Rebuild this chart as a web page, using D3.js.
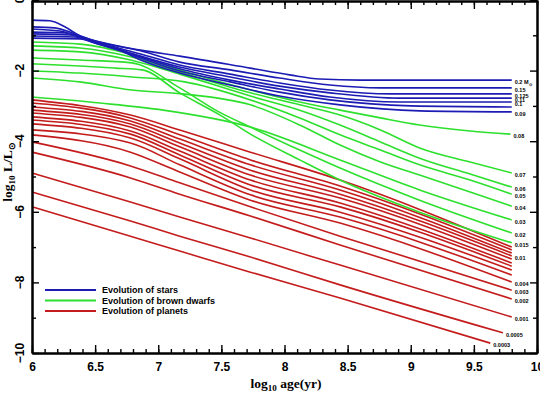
<!DOCTYPE html>
<html><head><meta charset="utf-8">
<script src="https://cdn.jsdelivr.net/npm/d3@7"></script>
<style>
html,body{margin:0;padding:0;background:#fff;}
svg{display:block;}
</style></head>
<body>
<svg id="chart" width="540" height="393"></svg>
<script>
// ---- data (log10 age in yr, log10 L/Lsun) ----
const starLabels = ["0.2 M", "0.15", "0.125", "0.11", "0.1", "", "0.09"];
const starTracks = [
  [[6.0,-0.57],[6.14,-0.59],[6.26,-0.76],[6.38,-1.02],[6.54,-1.19],[6.86,-1.42],[7.17,-1.59],[7.73,-1.93],[8.04,-2.12],[8.28,-2.24],[8.6,-2.27],[9.8,-2.27]],
  [[6.0,-0.76],[6.18,-0.79],[6.34,-0.96],[6.5,-1.16],[6.86,-1.44],[7.17,-1.76],[7.57,-1.98],[7.96,-2.21],[8.36,-2.41],[8.76,-2.49],[9.8,-2.49]],
  [[6.0,-0.82],[6.22,-0.88],[6.38,-1.05],[6.54,-1.22],[6.86,-1.53],[7.17,-1.84],[7.57,-2.10],[7.96,-2.35],[8.36,-2.55],[8.84,-2.66],[9.8,-2.66]],
  [[6.0,-0.91],[6.26,-0.93],[6.42,-1.10],[6.58,-1.27],[6.86,-1.59],[7.17,-1.90],[7.57,-2.18],[7.96,-2.44],[8.36,-2.63],[8.91,-2.78],[9.8,-2.78]],
  [[6.0,-0.96],[6.3,-0.99],[6.46,-1.16],[6.62,-1.33],[6.86,-1.61],[7.17,-1.95],[7.57,-2.27],[7.96,-2.52],[8.36,-2.75],[8.91,-2.89],[9.8,-2.89]],
  [[6.0,-1.02],[6.34,-1.05],[6.5,-1.22],[6.66,-1.39],[6.86,-1.64],[7.17,-2.01],[7.57,-2.32],[7.96,-2.61],[8.36,-2.83],[9.0,-3.0],[9.8,-3.03]],
  [[6.0,-1.08],[6.38,-1.10],[6.54,-1.27],[6.7,-1.44],[6.86,-1.70],[7.17,-2.07],[7.57,-2.41],[7.96,-2.72],[8.44,-2.97],[9.07,-3.14],[9.8,-3.17]]
];

const dwarfLabels = ["0.08", "0.07", "0.06", "0.05", "0.04", "0.03", "0.02", "0.015"];
const dwarfTracks = [
  [[6.0,-1.19],[6.38,-1.25],[6.78,-1.53],[7.17,-1.98],[7.73,-2.55],[8.12,-2.89],[8.44,-3.12],[8.76,-3.34],[9.07,-3.54],[9.47,-3.71],[9.79,-3.80]],
  [[6.0,-1.30],[6.38,-1.36],[6.78,-1.61],[7.17,-2.04],[7.73,-2.63],[8.12,-2.97],[8.44,-3.26],[8.76,-3.68],[9.07,-4.19],[9.47,-4.59],[9.8,-4.90]],
  [[6.0,-1.42],[6.38,-1.47],[6.78,-1.70],[7.17,-2.10],[7.73,-2.72],[8.12,-3.12],[8.44,-3.54],[8.76,-4.02],[9.07,-4.48],[9.47,-4.93],[9.8,-5.30]],
  [[6.0,-2.01],[6.38,-2.07],[6.79,-2.18],[7.21,-2.32],[7.73,-2.83],[8.12,-3.34],[8.44,-3.82],[8.76,-4.25],[9.07,-4.67],[9.47,-5.10],[9.8,-5.50]],
  [[6.0,-2.21],[6.38,-2.32],[6.79,-2.55],[7.19,-2.66],[7.73,-2.97],[8.12,-3.54],[8.44,-4.11],[8.76,-4.59],[9.07,-4.96],[9.47,-5.44],[9.8,-5.84]],
  [[6.0,-2.75],[6.54,-2.92],[7.04,-3.12],[7.73,-3.60],[8.44,-4.53],[9.07,-5.38],[9.8,-6.23]],
  [[6.0,-1.64],[6.38,-1.70],[6.79,-1.78],[7.17,-2.49],[7.48,-3.17],[7.73,-3.60],[8.12,-4.25],[8.44,-4.76],[9.07,-5.67],[9.8,-6.60]],
  [[6.0,-1.81],[6.38,-1.87],[6.66,-1.93],[6.87,-1.98],[7.17,-2.63],[7.49,-3.26],[7.74,-3.82],[8.12,-4.53],[8.44,-5.10],[9.07,-6.01],[9.8,-6.88]]
];

const planetLabels = ["", "", "", "0.01", "", "", "", "", "", "0.004", "0.003", "0.002", "0.001", "0.0005", "0.0003"];
const planetTracks = [
  [[6.0,-2.83],[6.78,-3.26],[7.17,-3.68],[7.73,-4.31],[8.44,-5.10],[9.8,-7.00]],
  [[6.0,-2.92],[6.78,-3.34],[7.17,-3.82],[7.73,-4.53],[8.44,-5.27],[9.8,-7.08]],
  [[6.0,-3.03],[6.78,-3.43],[7.17,-3.94],[7.73,-4.67],[8.44,-5.38],[9.8,-7.17]],
  [[6.0,-3.12],[6.78,-3.51],[7.17,-4.05],[7.73,-4.82],[8.44,-5.50],[9.8,-7.25]],
  [[6.0,-3.20],[6.78,-3.60],[7.17,-4.16],[7.73,-4.96],[8.44,-5.61],[9.8,-7.34]],
  [[6.0,-3.31],[6.78,-3.71],[7.17,-4.28],[7.73,-5.10],[8.44,-5.75],[9.8,-7.45]],
  [[6.0,-3.40],[6.78,-3.80],[7.17,-4.39],[7.73,-5.24],[8.44,-5.86],[9.8,-7.54]],
  [[6.0,-3.51],[6.78,-3.91],[7.17,-4.50],[7.73,-5.38],[8.44,-6.01],[9.8,-7.65]],
  [[6.0,-3.68],[6.78,-4.05],[7.17,-4.67],[7.73,-5.52],[8.44,-6.15],[9.8,-7.79]],
  [[6.0,-3.82],[6.78,-4.31],[7.17,-4.87],[7.73,-5.67],[8.44,-6.32],[9.8,-7.99]],
  [[6.0,-4.02],[6.78,-4.70],[7.17,-5.18],[7.73,-5.86],[8.44,-6.69],[9.8,-8.22]],
  [[6.0,-4.31],[6.78,-5.04],[7.17,-5.50],[7.73,-6.12],[8.44,-6.94],[9.8,-8.47]],
  [[6.0,-4.90],[6.78,-5.72],[7.17,-6.15],[7.73,-6.74],[8.44,-7.51],[9.8,-8.98]],
  [[6.0,-5.44],[6.78,-6.26],[7.17,-6.69],[7.73,-7.28],[8.44,-8.07],[9.73,-9.43]],
  [[6.0,-5.86],[6.78,-6.69],[7.17,-7.11],[7.73,-7.71],[8.44,-8.44],[9.63,-9.72]]
];

const xTickValues = [6, 6.5, 7, 7.5, 8, 8.5, 9, 9.5, 10];
const xTickLabels = ["6", "6.5", "7", "7.5", "8", "8.5", "9", "9.5", "10"];
const xMinorTicks = d3.range(60, 101).map(v => v / 10);
const yTickValues = [0, -2, -4, -6, -8, -10];
const yTickLabels = ["0", "\u22122", "\u22124", "\u22126", "\u22128", "\u221210"];
const yMinorTicks = [-1, -3, -5, -7, -9];

const legendLabels = ["Evolution of stars", "Evolution of brown dwarfs", "Evolution of planets"];
const groupColors = ["#1c1cb4", "#2ee02e", "#c41c1c"];

// ---- drawing ----
const svg = d3.select("#chart");
const L = 32, R = 537, T = 0, B = 353;
const x = d3.scaleLinear().domain([6, 10]).range([L, R]);
const y = d3.scaleLinear().domain([-10, 0]).range([B, T]);

const line = d3.line().x(d => x(d[0])).y(d => y(d[1])).curve(d3.curveMonotoneX);

function drawGroup(tracks, labels, color) {
  const g = svg.append("g");
  g.selectAll("path").data(tracks).join("path")
    .attr("d", line).attr("fill", "none")
    .attr("stroke", color).attr("stroke-width", 1.6);
  g.selectAll("text").data(tracks.map((t, i) => ({ t, lab: labels[i] })).filter(d => d.lab))
    .join("text")
    .attr("x", d => x(d.t[d.t.length - 1][0]) + 3)
    .attr("y", d => y(d.t[d.t.length - 1][1]) + 2)
    .attr("dy", "0.35em")
    .attr("font-family", "Liberation Sans, Arial, sans-serif")
    .attr("font-weight", "bold")
    .attr("font-size", 5.5)
    .attr("fill", "#000")
    .each(function (d) {
      const t = d3.select(this);
      t.append("tspan").text(d.lab);
      if (d.lab.indexOf("M") >= 0) {
        t.append("tspan").attr("font-size", 4).attr("dy", "1.5").text("\u2299");
      }
    });
}
drawGroup(planetTracks, planetLabels, groupColors[2]);
drawGroup(dwarfTracks, dwarfLabels, groupColors[1]);
drawGroup(starTracks, starLabels, groupColors[0]);

// axes
function styleAxis(g) {
  g.select(".domain").attr("stroke", "#000").attr("stroke-width", 2);
  g.selectAll(".tick line").attr("stroke", "#000").attr("stroke-width", 1.4);
}
const fmt = v => xTickLabels[xTickValues.indexOf(v)];

svg.append("g").attr("transform", `translate(0,${B})`)
  .call(d3.axisBottom(x).tickValues(xMinorTicks).tickSize(-4).tickFormat("").tickSizeOuter(0))
  .call(styleAxis);
const xb = svg.append("g").attr("transform", `translate(0,${B})`)
  .call(d3.axisBottom(x).tickValues(xTickValues).tickSize(-8).tickPadding(9).tickFormat(fmt).tickSizeOuter(0))
  .call(styleAxis);
xb.selectAll("text").attr("font-family", "Liberation Sans, Arial, sans-serif")
  .attr("font-weight", "bold").attr("font-size", 12).attr("fill", "#000");

svg.append("g").attr("transform", `translate(0,${T + 1})`)
  .call(d3.axisTop(x).tickValues(xMinorTicks).tickSize(-4).tickFormat("").tickSizeOuter(0))
  .call(styleAxis);
svg.append("g").attr("transform", `translate(0,${T + 1})`)
  .call(d3.axisTop(x).tickValues(xTickValues).tickSize(-8).tickFormat("").tickSizeOuter(0))
  .call(styleAxis);

svg.append("g").attr("transform", `translate(${L},0)`)
  .call(d3.axisLeft(y).tickValues(yMinorTicks).tickSize(-4).tickFormat("").tickSizeOuter(0))
  .call(styleAxis);
svg.append("g").attr("transform", `translate(${L},0)`)
  .call(d3.axisLeft(y).tickValues(yTickValues).tickSize(-7).tickFormat("").tickSizeOuter(0))
  .call(styleAxis);
svg.append("g").attr("transform", `translate(${R},0)`)
  .call(d3.axisRight(y).tickValues(yMinorTicks).tickSize(-4).tickFormat("").tickSizeOuter(0))
  .call(styleAxis);
svg.append("g").attr("transform", `translate(${R},0)`)
  .call(d3.axisRight(y).tickValues(yTickValues).tickSize(-7).tickFormat("").tickSizeOuter(0))
  .call(styleAxis);

// rotated y tick labels
svg.append("g").selectAll("text").data(yTickValues).join("text")
  .attr("transform", v => `translate(20,${y(v)}) rotate(-90)`)
  .attr("text-anchor", "middle").attr("dy", "0.35em")
  .attr("font-family", "Liberation Sans, Arial, sans-serif")
  .attr("font-weight", "bold").attr("font-size", 12)
  .text((v, i) => yTickLabels[i]);

// axis titles
const xt = svg.append("text").attr("x", 286).attr("y", 388)
  .attr("text-anchor", "middle")
  .attr("font-family", "Liberation Serif, Times New Roman, serif")
  .attr("font-weight", "bold").attr("font-size", 13.5);
xt.append("tspan").text("log");
xt.append("tspan").attr("font-size", 9).attr("dy", 3).text("10");
xt.append("tspan").attr("dy", -3).text(" age(yr)");

const yt = svg.append("text").attr("transform", "translate(12,172) rotate(-90)")
  .attr("text-anchor", "middle")
  .attr("font-family", "Liberation Serif, Times New Roman, serif")
  .attr("font-weight", "bold").attr("font-size", 13.5);
yt.append("tspan").text("log");
yt.append("tspan").attr("font-size", 9).attr("dy", 3).text("10");
yt.append("tspan").attr("dy", -3).text(" L/L");
yt.append("tspan").attr("font-size", 9).attr("dy", 3).text("\u2299");

// legend
const lg = svg.append("g");
legendLabels.forEach((lab, i) => {
  const yy = 290 + i * 10.5;
  lg.append("line").attr("x1", 45).attr("x2", 96).attr("y1", yy).attr("y2", yy)
    .attr("stroke", groupColors[i]).attr("stroke-width", 1.8);
  lg.append("text").attr("x", 102).attr("y", yy).attr("dy", "0.35em")
    .attr("font-family", "Liberation Sans, Arial, sans-serif")
    .attr("font-weight", "bold").attr("font-size", 9).attr("fill", "#000")
    .text(lab);
});
</script>
</body></html>
